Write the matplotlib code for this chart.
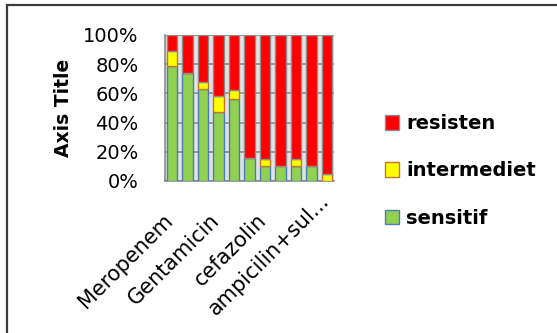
import matplotlib
matplotlib.use("Agg")
import matplotlib.pyplot as plt
from matplotlib.patches import Rectangle, Patch
from matplotlib.ticker import PercentFormatter
import matplotlib.transforms as mtransforms
import numpy as np

# Antibiotic susceptibility shares (fraction of isolates)
antibiotics = ["Meropenem", "", "", "Gentamicin", "", "", "cefazolin", "", "",
               "ampicilin+sul...", ""]
sensitif = [0.79, 0.74, 0.63, 0.47, 0.56, 0.16, 0.10, 0.10, 0.10, 0.10, 0.00]
intermediet = [0.10, 0.00, 0.05, 0.11, 0.06, 0.00, 0.05, 0.00, 0.05, 0.00, 0.05]
resisten = [0.11, 0.26, 0.32, 0.42, 0.38, 0.84, 0.85, 0.90, 0.85, 0.90, 0.95]

series_names = ["sensitif", "intermediet", "resisten"]
colors = ["#92D050", "#FFFF00", "#FF0000"]
edges = ["#4A7EBB", "#C0782A", "#8C8C8C"]

plt.rcParams["font.family"] = ["DejaVu Sans"]

fig = plt.figure(figsize=(5.57, 3.33), dpi=100)
ax = fig.add_axes([165 / 557, 1 - 181 / 333, 169 / 557, 146 / 333])
ax.set_facecolor("#E3E3E3")

x = np.arange(len(sensitif))
bottom = np.zeros(len(x))
handles = []
for vals, name, c, ec in zip([sensitif, intermediet, resisten], series_names, colors, edges):
    vals = np.array(vals)
    ax.bar(x, vals, width=0.68, bottom=bottom, color=c, edgecolor=ec,
           linewidth=1.0, zorder=3)
    bottom += vals
    handles.append(Patch(facecolor=c, edgecolor=ec, linewidth=1.0, label=name))

ax.set_xlim(-0.45, 10.45)
ax.set_ylim(0, 1)
ax.set_yticks(np.arange(0, 1.01, 0.2))
ax.yaxis.set_major_formatter(PercentFormatter(1.0, decimals=0))
ax.grid(axis="y", color="#8C8C8C", linewidth=1.2, zorder=1)
for side in ["top", "right"]:
    ax.spines[side].set_visible(False)
for side in ["left", "bottom"]:
    ax.spines[side].set_color("#8C8C8C")
    ax.spines[side].set_linewidth(1.2)

ax.tick_params(axis="y", length=0, pad=19, labelsize=14)
ax.tick_params(axis="x", length=0, pad=0, labelsize=15)

label_pos = [i for i, s in enumerate(antibiotics) if s]
ax.set_xticks(label_pos)
ax.set_xticklabels([antibiotics[i] for i in label_pos], rotation=45,
                   ha="right", va="center", rotation_mode="anchor")
for k, lbl in enumerate(ax.get_xticklabels()):
    dx, dy = -2, -36
    if k == len(label_pos) - 1:
        # the truncated last label sits a little higher
        dx, dy = 15, -17
    off = mtransforms.ScaledTranslation(dx / 100, dy / 100, fig.dpi_scale_trans)
    lbl.set_transform(lbl.get_transform() + off)

ax.set_ylabel("Axis Title", fontsize=13.5, fontweight="bold")
ax.yaxis.set_label_coords(-0.544, 0.5)

leg = fig.legend(handles=handles[::-1], loc="center left",
                 bbox_to_anchor=(367 / 557, 1 - 171 / 333), frameon=False,
                 prop={"weight": "bold", "size": 14},
                 handlelength=0.77, handleheight=0.77, handletextpad=0.36,
                 labelspacing=1.45)

# outer chart border
fig.add_artist(Rectangle((6.5 / 557, -0.05), 1.2, 1.05 - 5.5 / 333,
                         transform=fig.transFigure, fill=False,
                         edgecolor="#3A3A3A", linewidth=1.6))

fig.savefig("out.png", dpi=100)
